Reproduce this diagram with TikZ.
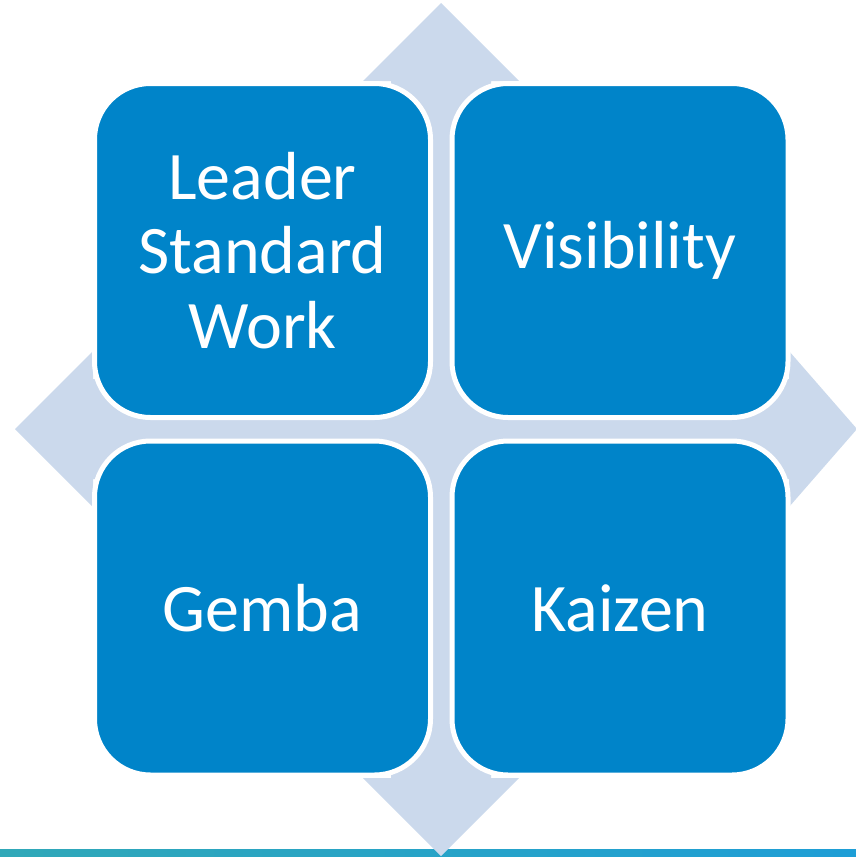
\documentclass[tikz,border=0pt]{standalone}
\usepackage{fontspec}
\setmainfont{Carlito}
\usepackage{tikz}
\definecolor{boxblue}{RGB}{0,132,201}
\definecolor{arrowgray}{RGB}{203,217,236}
\definecolor{barteal}{RGB}{48,168,184}
\definecolor{barblue}{RGB}{30,158,214}

\begin{document}
\begin{tikzpicture}[x=1pt,y=-1pt,
    quad/.style={fill=boxblue, draw=white, line width=5pt, rounded corners=56pt,
        minimum width=336pt, minimum height=334pt, inner sep=0pt,
        text=white, align=center, font=\fontsize{68}{74.5}\selectfont}]
            \useasboundingbox (0,0) rectangle (856,857);
            \fill[white] (0,0) rectangle (856,857);
            \shade[left color=barteal, right color=barblue] (0,849) rectangle (856,857);
            \fill[arrowgray] (441,3) -- (519,81) -- (491,81) -- (491,379) -- (789,379) -- (789,351)
                -- (857,429) -- (789,507) -- (789,479) -- (491,479) -- (491,778) -- (519,778)
                -- (441,856) -- (363,778) -- (391,778) -- (391,479) -- (93,479) -- (93,507)
                -- (15,429) -- (93,351) -- (93,379) -- (391,379) -- (391,81) -- (363,81) -- cycle;
            \node[quad] (lsw) at (262.5,250.5) {Leader\\Standard\\Work};
            \node[quad] (vis) at (620,250.5) {Visibility};
            \node[quad] (gem) at (262.5,608) {Gemba};
            \node[quad] (kai) at (620,608) {Kaizen};
        \end{tikzpicture}
\end{document}
